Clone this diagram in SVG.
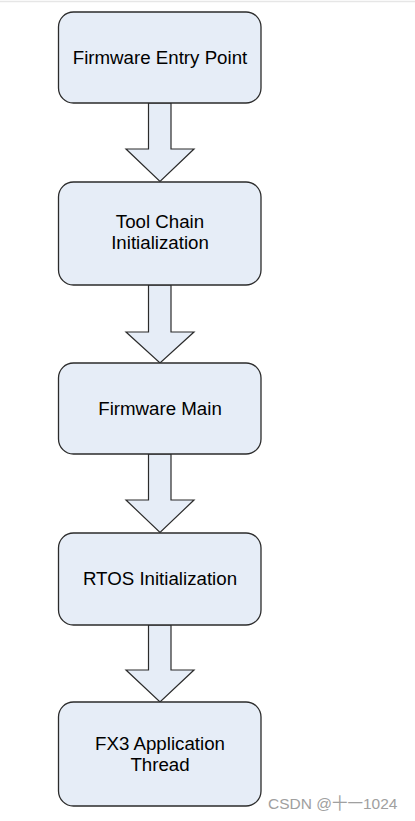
<svg xmlns="http://www.w3.org/2000/svg" width="415" height="821" viewBox="0 0 415 821">
<style>
.box{fill:#e6edf7;stroke:#2b2b2b;stroke-width:1.3}
.arr{fill:#e6edf7;stroke:#2b2b2b;stroke-width:1.2;stroke-linejoin:miter}
.t{font-family:"Liberation Sans",Arial,sans-serif;font-size:18.7px;fill:#000;text-anchor:middle}
.wm{font-family:"Liberation Sans","Noto Sans CJK SC",sans-serif;font-size:15.5px;fill:#a0a0a0}
</style>
<rect width="415" height="821" fill="#fff"/>
<line x1="0" y1="1.5" x2="415" y2="1.5" stroke="#e6e6e6" stroke-width="1.5"/>
<g id="connectors">
<polygon class="arr" points="148.5,103 171,103 171,149 194,149 160,181.5 126,149 148.5,149"/>
<polygon class="arr" points="148.5,285 171,285 171,332 194,332 160,363 126,332 148.5,332"/>
<polygon class="arr" points="148.5,454 171,454 171,500 194,500 160,532.5 126,500 148.5,500"/>
<polygon class="arr" points="148.5,625 171,625 171,670 194,670 160,702 126,670 148.5,670"/>
</g>
<g id="n1"><rect class="box" x="58.5" y="12" width="202.5" height="91" rx="15"/><text class="t" x="160" y="63.5">Firmware Entry Point</text></g>
<g id="n2"><rect class="box" x="58.5" y="182" width="202.5" height="103" rx="15"/><text class="t" x="160" y="227.5">Tool Chain</text><text class="t" x="160" y="248.5">Initialization</text></g>
<g id="n3"><rect class="box" x="58.5" y="363" width="202.5" height="91" rx="15"/><text class="t" x="160" y="415">Firmware Main</text></g>
<g id="n4"><rect class="box" x="58.5" y="533" width="202.5" height="92" rx="15"/><text class="t" x="160" y="585">RTOS Initialization</text></g>
<g id="n5"><rect class="box" x="58.5" y="702" width="202.5" height="104" rx="15"/><text class="t" x="160" y="749.5">FX3 Application</text><text class="t" x="160" y="770.5">Thread</text></g>
<text class="wm" x="268" y="809">CSDN @十一1024</text>
</svg>
